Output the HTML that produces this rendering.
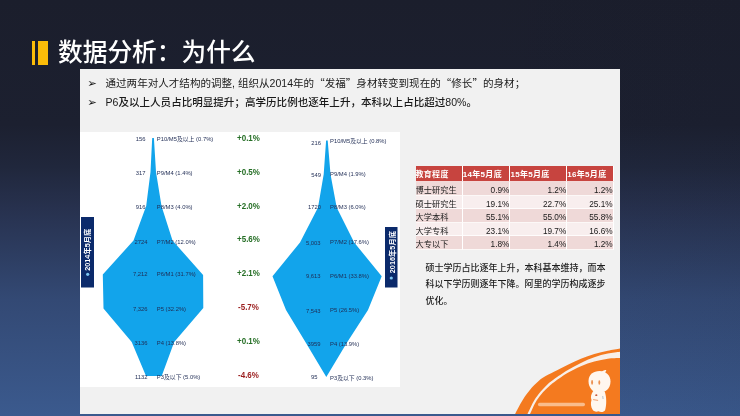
<!DOCTYPE html>
<html lang="zh-CN">
<head>
<meta charset="utf-8">
<title>数据分析：为什么</title>
<style>
*{margin:0;padding:0;box-sizing:border-box}
html,body{width:740px;height:416px;overflow:hidden}
body{position:relative;font-family:"Liberation Sans","Noto Sans CJK SC",sans-serif;
 background:linear-gradient(180deg,#1b1e2c 0%,#1c2030 30%,#20273c 40%,#27314e 50%,#334974 72%,#3b5a8e 100%);}
.abs{position:absolute}
#shade{left:0;top:0;width:740px;height:416px;background:linear-gradient(90deg,rgba(0,0,0,0) 0%,rgba(0,0,0,0) 60%,rgba(10,14,30,.06) 100%)}
#bar1{left:32px;top:40.5px;width:3.3px;height:24px;background:#fbbc09}
#bar2{left:38px;top:40.5px;width:9.8px;height:24px;background:#fbbc09}
#title{filter:blur(.4px);left:58px;top:35.3px;font-size:24.7px;line-height:36px;color:#fff;white-space:nowrap;font-weight:500}
#panel{filter:blur(.45px);left:79.5px;top:69px;width:540.2px;height:344.7px;background:#f1f1f1;overflow:hidden}
#chartbg{left:0;top:63px;width:320px;height:254.6px;background:#fff}
.bl{font-size:10.55px;line-height:14px;color:#1a1a1a;white-space:nowrap}
.q{font-family:"Noto Sans CJK SC",sans-serif}
.arrow{font-family:"DejaVu Sans",sans-serif;font-size:11.5px;line-height:14px;color:#111}
#para{left:346px;top:191.2px;width:184px;font-size:9px;line-height:16.3px;color:#1c1c1c;font-weight:500}
table{border-collapse:separate;border-spacing:0;table-layout:fixed}
#tbl{left:336px;top:97.2px;width:198.2px}
#tbl td{height:13.4px;font-size:8.25px;line-height:8.8px;vertical-align:top;color:#1a1a1a;padding:3.7px 0 0 0;border-right:1px solid #fff;border-bottom:1px solid rgba(255,255,255,.8);white-space:nowrap;text-align:right;overflow:hidden}
#tbl td:first-child{text-align:left}
#tbl tr.h td{background:#c7443f;color:#fff;font-weight:bold;text-align:left;font-size:8px;padding:4.4px 0 0 0;height:16.2px;letter-spacing:.3px}
#tbl td span{position:relative;top:1.4px}
#tbl tr.h td span{top:.6px}
#tbl tr.a td{background:#efd9d8}
#tbl tr.b td{background:#f8eeee}
</style>
</head>
<body>
<div id="shade" class="abs"></div>
<div id="bar1" class="abs"></div><div id="bar2" class="abs"></div>
<div id="title" class="abs">数据分析：为什么</div>

<div id="panel" class="abs">
  <div class="abs arrow" style="left:7.8px;top:7px">➢</div>
  <div id="l1" class="abs bl" style="left:26px;top:7px">通过两年对人才结构的调整, 组织从2014年的<span class="q">“</span>发福<span class="q">”</span>身材转变到现在的<span class="q">“</span>修长<span class="q">”</span>的身材；</div>
  <div class="abs arrow" style="left:7.8px;top:25.5px">➢</div>
  <div id="l2" class="abs bl" style="left:26px;top:25.5px;font-weight:500">P6及以上人员占比明显提升；高学历比例也逐年上升，本科以上占比超过80%。</div>

  <div id="chartbg" class="abs"></div>

  <svg class="abs" style="left:0;top:0" width="540" height="345" viewBox="79.5 69 540 345">
    <polygon fill="#12a4eb" points="151.7,138 153.4,138 155.5,172 161,206 172,240.5 202.6,275 202.8,308 173.7,342 161.2,376 145.5,376 131.2,342 103,308.5 102.3,274.5 133,240.5 145.7,206 150,172"/>
    <polygon fill="#12a4eb" points="325.6,140.5 327.2,140.5 330,174.2 336.2,207.5 353.7,242.5 381.2,276.2 367.5,310 346.2,343 325.8,377 305.5,343 285.5,310 272,276.2 299.5,242.5 317.5,207.5 323.2,174.2"/>
    <rect x="80.5" y="217" width="13" height="70.5" fill="#0b2a6b"/>
    <rect x="384.5" y="227" width="12.5" height="60.5" fill="#0b2a6b"/>
    <g font-family="'Liberation Sans','Noto Sans CJK SC',sans-serif" font-size="7.3" font-weight="bold" fill="#fff">
      <text transform="translate(89.6,270.8) rotate(-90)">2014年5月底</text>
      <text transform="translate(394.0,273.2) rotate(-90)">2016年5月底</text>
    </g>
    <circle cx="87.2" cy="274.3" r="1.6" fill="#7cc6f2"/>
    <circle cx="390.8" cy="278" r="1.6" fill="#7cc6f2"/>
    <g font-family="'Liberation Sans','Noto Sans CJK SC',sans-serif" font-size="5.85" fill="#1f2c54">
      <g text-anchor="end">
        <text x="145" y="141">156</text>
        <text x="145" y="174.5">317</text>
        <text x="145" y="208.5">916</text>
        <text x="147" y="243.5">2724</text>
        <text x="147" y="276.4">7,212</text>
        <text x="147" y="311">7,326</text>
        <text x="147" y="345">3136</text>
        <text x="147" y="379">1132</text>
        <text x="320.5" y="144.5">216</text>
        <text x="320.5" y="176.5">549</text>
        <text x="320.5" y="209.3">1720</text>
        <text x="320" y="244.5">5,003</text>
        <text x="320" y="278.3">9,613</text>
        <text x="320" y="312.5">7,543</text>
        <text x="320" y="345.5">3959</text>
        <text x="317" y="378.8">95</text>
      </g>
      <text x="156.3" y="140.5">P10/M5及以上 (0.7%)</text>
      <text x="156.3" y="174.5">P9/M4 (1.4%)</text>
      <text x="156.3" y="208.5">P8/M3 (4.0%)</text>
      <text x="156.3" y="243.5">P7/M2 (12.0%)</text>
      <text x="156.3" y="276.2">P6/M1 (31.7%)</text>
      <text x="156.3" y="311">P5 (32.2%)</text>
      <text x="156.3" y="345">P4 (13.8%)</text>
      <text x="156.3" y="379">P3及以下 (5.0%)</text>
      <text x="329.5" y="143">P10/M5及以上 (0.8%)</text>
      <text x="329.5" y="176">P9/M4 (1.9%)</text>
      <text x="329.5" y="209">P8/M3 (6.0%)</text>
      <text x="329.5" y="244">P7/M2 (17.6%)</text>
      <text x="329.5" y="278">P6/M1 (33.8%)</text>
      <text x="329.5" y="312">P5 (26.5%)</text>
      <text x="329.5" y="345.5">P4 (13.9%)</text>
      <text x="329.5" y="379.5">P3及以下 (0.3%)</text>
    </g>
    <g font-family="'Liberation Sans',sans-serif" font-size="8.5" font-weight="bold" text-anchor="middle" transform="translate(247.9 0.6) scale(.94 1) translate(-247.9 0)">
      <g fill="#256e25">
        <text x="248" y="140.5">+0.1%</text>
        <text x="248" y="174.3">+0.5%</text>
        <text x="248" y="208">+2.0%</text>
        <text x="248" y="241.5">+5.6%</text>
        <text x="248" y="275.3">+2.1%</text>
        <text x="248" y="343.3">+0.1%</text>
      </g>
      <g fill="#9a1c1c">
        <text x="248" y="309.6">-5.7%</text>
        <text x="248" y="377.1">-4.6%</text>
      </g>
    </g>
    <!-- orange corner -->
    <path d="M514.2,415.0 C514.4,414.7 514.2,414.7 515.1,413.0 C516.0,411.3 517.9,407.5 519.4,404.8 C520.9,402.1 522.6,399.1 524.2,396.7 C525.8,394.3 527.4,392.3 529.0,390.4 C530.6,388.5 532.2,386.8 533.8,385.1 C535.4,383.5 537.1,381.9 538.7,380.5 C540.3,379.1 541.0,378.4 543.5,377.0 C546.0,375.6 549.6,373.8 553.5,371.8 C557.4,369.8 562.4,367.1 566.9,364.9 C571.4,362.7 575.9,360.6 580.4,358.8 C584.9,357.0 589.3,355.4 593.8,354.1 C598.3,352.8 602.9,351.7 607.3,350.8 C611.7,349.9 617.9,348.9 620.0,348.5 L620,415 Z" fill="#f47a1f"/>
    <path d="M527.0,414.0 C528.0,412.0 531.0,405.2 532.8,402.0 C534.6,398.8 536.1,396.8 537.8,394.6 C539.5,392.4 541.3,390.4 543.0,388.6 C544.7,386.8 546.1,385.2 547.9,383.6 C549.6,382.0 550.3,381.4 553.5,379.2 C556.7,377.0 562.4,373.0 566.9,370.3 C571.4,367.6 575.9,365.1 580.4,362.9 C584.9,360.7 589.3,358.8 593.8,357.2 C598.3,355.6 602.9,354.4 607.3,353.5 C611.7,352.6 617.9,351.9 620.0,351.6 L620.0,358.1 C617.9,358.2 611.7,358.2 607.3,358.8 C602.9,359.4 598.3,360.3 593.8,361.5 C589.3,362.7 584.9,364.3 580.4,366.2 C575.9,368.1 571.2,370.5 566.9,373.0 C562.6,375.5 557.4,379.4 554.5,381.4 C551.6,383.4 551.3,383.8 549.7,385.2 C548.1,386.6 546.5,388.1 544.9,389.8 C543.3,391.5 541.6,393.1 540.0,395.2 C538.4,397.3 536.8,399.3 535.0,402.4 C533.2,405.5 530.4,412.1 529.5,414.0 Z" fill="#f8efe8"/>
    <rect x="537.5" y="402.8" width="47" height="3.4" rx="1.6" fill="#fbd3b2" opacity=".75"/>
    <!-- mascot -->
    <g fill="#fff7ef">
      <path d="M588,381 C588,374.5 593,371 599,371 C605.5,371 610,375.5 610,381.5 C610,388.5 605,392.8 598.5,392.8 C592.5,392.8 588,388 588,381 Z"/>
      <path d="M600.5,372.5 C602,370.6 604,369.6 605.8,370 C605.3,372 604,373.6 602.3,374.6 Z"/>
      <path d="M592.8,391 C590.6,394 589.8,397 591,400 C589.9,403 590.4,407 592,409.6 C593,411.6 596,412.2 598,411.2 C600,412.5 603.5,412.2 604.6,410.2 C606.2,405 606.2,397 604.2,391.5 Z"/>
    </g>
    <ellipse cx="591.6" cy="382.4" rx="0.95" ry="2.3" fill="#ec8f4f"/>
    <ellipse cx="598.8" cy="382.5" rx="0.95" ry="2.3" fill="#ec8f4f"/>
    <ellipse cx="595.8" cy="395.2" rx="1.1" ry="0.9" fill="#c65a3c"/>
    <path d="M592.6,399.6 L597.6,400.4" stroke="#f0a070" stroke-width="1" fill="none"/>
    <path d="M602.2,396 L602.6,399" stroke="#9fb6c8" stroke-width=".8" fill="none"/>
  </svg>

  <table id="tbl" class="abs"><colgroup><col style="width:47.3px"><col style="width:47.6px"><col style="width:56.9px"><col style="width:46.4px"></colgroup>
    <tr class="h"><td><span>教育程度</span></td><td><span>14年5月底</span></td><td><span>15年5月底</span></td><td><span>16年5月底</span></td></tr>
    <tr class="a"><td><span>博士研究生</span></td><td><span>0.9%</span></td><td><span>1.2%</span></td><td><span>1.2%</span></td></tr>
    <tr class="b"><td><span>硕士研究生</span></td><td><span>19.1%</span></td><td><span>22.7%</span></td><td><span>25.1%</span></td></tr>
    <tr class="a"><td><span>大学本科</span></td><td><span>55.1%</span></td><td><span>55.0%</span></td><td><span>55.8%</span></td></tr>
    <tr class="b"><td><span>大学专科</span></td><td><span>23.1%</span></td><td><span>19.7%</span></td><td><span>16.6%</span></td></tr>
    <tr class="a"><td><span>大专以下</span></td><td><span>1.8%</span></td><td><span>1.4%</span></td><td><span>1.2%</span></td></tr>
  </table>

  <div id="para" class="abs">硕士学历占比逐年上升，本科基本维持，而本科以下学历则逐年下降。阿里的学历构成逐步优化。</div>
</div>
</body>
</html>
